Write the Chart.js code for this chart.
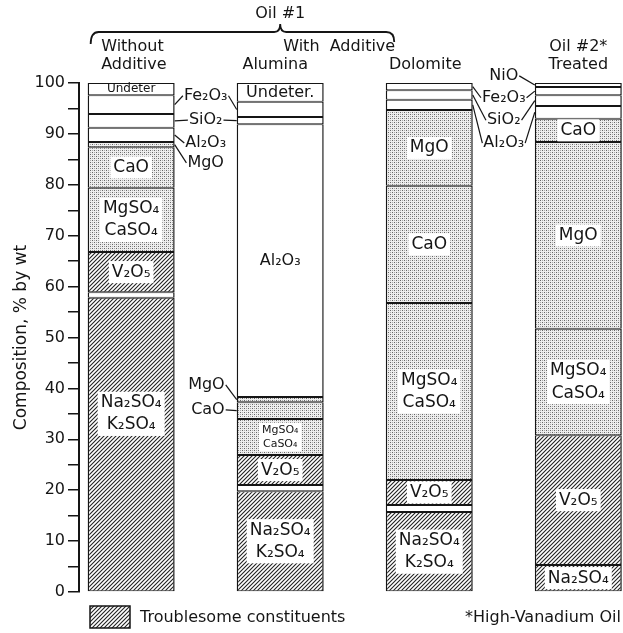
<!DOCTYPE html>
<html>
<head>
<meta charset="utf-8">
<script src="https://cdn.jsdelivr.net/npm/chart.js@4.4.1/dist/chart.umd.min.js"></script>
<style>
html, body { margin: 0; padding: 0; background: #fff; }
#wrap { width: 623px; height: 633px; }
</style>
</head>
<body>
<div id="wrap"><canvas id="comp" width="623" height="633"></canvas></div>
<script>
// bars, left to right
var bars = ['Without Additive', 'Alumina', 'Dolomite', 'Oil #2 Treated'];
var barPos = [1, 2, 3, 4];

// composition, % by wt - bottom layer first
var naK    = [57.8, 19.8, 15.7, 5.3];
var gap    = [1.1, 1.2, 1.4, null];
var v2o5   = [7.9, 5.9, 4.9, 25.5];
var sulf   = [12.6, 7.1, 34.8, 20.9];
var mgoLow = [null, null, null, 36.7];
var cao    = [8.0, 3.3, 23.0, 4.6];
var mgo    = [1.0, 1.0, 14.9, null];
var al2o3  = [2.8, 53.6, 2.0, 2.5];
var sio2   = [2.7, 1.4, 1.9, 2.1];
var fe2o3  = [3.7, 3.0, 1.4, 1.6];
var undet  = [2.4, 3.7, null, null];
var nio    = [null, null, null, 0.8];

// y axis labels every 10, ticks every 5
var yLabels = [0, 10, 20, 30, 40, 50, 60, 70, 80, 90, 100];

var FONT = '"DejaVu Sans", sans-serif';
var INK = '#151515';

var ctx = document.getElementById('comp').getContext('2d');

function hatch() {
  var c = document.createElement('canvas');
  c.width = 4; c.height = 4;
  var g = c.getContext('2d');
  g.fillStyle = '#fff';
  g.fillRect(0, 0, 4, 4);
  g.strokeStyle = '#222';
  g.lineWidth = 1.1;
  g.beginPath();
  g.moveTo(-1, 5); g.lineTo(5, -1);
  g.moveTo(-1, 1); g.lineTo(1, -1);
  g.moveTo(3, 5); g.lineTo(5, 3);
  g.stroke();
  return ctx.createPattern(c, 'repeat');
}

function stipple() {
  var c = document.createElement('canvas');
  c.width = 4; c.height = 4;
  var g = c.getContext('2d');
  g.fillStyle = '#eeeeee';
  g.fillRect(0, 0, 4, 4);
  g.fillStyle = '#666';
  g.fillRect(0, 0, 1, 1); g.fillRect(2, 2, 1, 1);
  g.fillStyle = '#aaa';
  g.fillRect(2, 0, 1, 1); g.fillRect(0, 2, 1, 1);
  return ctx.createPattern(c, 'repeat');
}

var HATCH = hatch();
var DOTS = stipple();

// key, name, values, fill
var layers = [
  ['naK', 'Na₂SO₄ + K₂SO₄', naK, HATCH],
  ['gap', '', gap, '#fff'],
  ['v2o5', 'V₂O₅', v2o5, HATCH],
  ['sulf', 'MgSO₄ + CaSO₄', sulf, DOTS],
  ['mgoLow', 'MgO', mgoLow, DOTS],
  ['cao', 'CaO', cao, DOTS],
  ['mgo', 'MgO', mgo, DOTS],
  ['al2o3', 'Al₂O₃', al2o3, '#fff'],
  ['sio2', 'SiO₂', sio2, '#fff'],
  ['fe2o3', 'Fe₂O₃', fe2o3, '#fff'],
  ['undet', 'Undeter.', undet, '#fff'],
  ['nio', 'NiO', nio, '#fff']
];

var datasets = layers.map(function (l) {
  return {
    key: l[0],
    label: l[1],
    data: l[2],
    backgroundColor: l[3],
    borderColor: INK,
    borderWidth: { top: 1, bottom: 1, left: 1.5, right: 1.5 },
    borderSkipped: false,
    inflateAmount: 0,
    barThickness: 87
  };
});

// labels written inside the bars
var inLabels = [
  { k: 'undet', b: 0, t: ['Undeter'], f: 12 },
  { k: 'cao', b: 0, t: ['CaO'] },
  { k: 'sulf', b: 0, t: ['MgSO₄', 'CaSO₄'] },
  { k: 'v2o5', b: 0, t: ['V₂O₅'] },
  { k: 'naK', b: 0, t: ['Na₂SO₄', 'K₂SO₄'], at: 35 },
  { k: 'undet', b: 1, t: ['Undeter.'], f: 16 },
  { k: 'al2o3', b: 1, t: ['Al₂O₃'], f: 16 },
  { k: 'sulf', b: 1, t: ['MgSO₄', 'CaSO₄'], f: 11 },
  { k: 'v2o5', b: 1, t: ['V₂O₅'] },
  { k: 'naK', b: 1, t: ['Na₂SO₄', 'K₂SO₄'] },
  { k: 'mgo', b: 2, t: ['MgO'] },
  { k: 'cao', b: 2, t: ['CaO'] },
  { k: 'sulf', b: 2, t: ['MgSO₄', 'CaSO₄'] },
  { k: 'v2o5', b: 2, t: ['V₂O₅'] },
  { k: 'naK', b: 2, t: ['Na₂SO₄', 'K₂SO₄'] },
  { k: 'cao', b: 3, t: ['CaO'] },
  { k: 'mgoLow', b: 3, t: ['MgO'] },
  { k: 'sulf', b: 3, t: ['MgSO₄', 'CaSO₄'] },
  { k: 'v2o5', b: 3, t: ['V₂O₅'] },
  { k: 'naK', b: 3, t: ['Na₂SO₄'] }
];

// labels outside the bars with leader lines
// pair = text centred between bar pair[0] and pair[1]; left = text just left of that bar
var callouts = [
  { t: 'Fe₂O₃', y: 97.5, pair: [0, 1], to: [['fe2o3', 0], ['fe2o3', 1]] },
  { t: 'SiO₂', y: 92.7, pair: [0, 1], to: [['sio2', 0], ['sio2', 1]] },
  { t: 'Al₂O₃', y: 88.2, pair: [0, 1], to: [['al2o3', 0]] },
  { t: 'MgO', y: 84.3, pair: [0, 1], to: [['mgo', 0]] },
  { t: 'MgO', y: 40.7, left: 1, to: [['mgo', 1]] },
  { t: 'CaO', y: 35.8, left: 1, to: [['cao', 1]] },
  { t: 'NiO', y: 101.4, pair: [2, 3], to: [['nio', 3]] },
  { t: 'Fe₂O₃', y: 97.1, pair: [2, 3], to: [['fe2o3', 2], ['fe2o3', 3]] },
  { t: 'SiO₂', y: 92.7, pair: [2, 3], to: [['sio2', 2], ['sio2', 3]] },
  { t: 'Al₂O₃', y: 88.2, pair: [2, 3], to: [['al2o3', 2], ['al2o3', 3]] }
];

function bar(chart, key, b) {
  var i = layers.findIndex(function (l) { return l[0] === key; });
  return chart.getDatasetMeta(i).data[b];
}

var decor = {
  id: 'decor',
  afterDraw: function (chart) {
    var g = chart.ctx;
    var x = chart.scales.x, y = chart.scales.y;
    var px = function (i) { return x.getPixelForValue(barPos[i]); };
    var half = bar(chart, 'naK', 0).width / 2;
    g.save();
    g.fillStyle = INK;
    g.strokeStyle = INK;
    g.textBaseline = 'middle';

    // labels inside bars
    inLabels.forEach(function (L) {
      var el = bar(chart, L.k, L.b);
      var f = L.f || 17;
      var lh = f * 1.3;
      var cy = L.at != null ? y.getPixelForValue(L.at) : (el.y + el.base) / 2;
      g.font = f + 'px ' + FONT;
      g.textAlign = 'center';
      var w = Math.max.apply(null, L.t.map(function (s) { return g.measureText(s).width; }));
      var top = cy - lh * L.t.length / 2;
      var fill = layers.find(function (l) { return l[0] === L.k; })[3];
      if (fill !== '#fff') {
        g.fillStyle = '#fff';
        g.fillRect(el.x - w / 2 - 3, top, w + 6, lh * L.t.length);
      }
      g.fillStyle = INK;
      L.t.forEach(function (s, j) { g.fillText(s, el.x, top + lh * (j + 0.5)); });
    });

    // callouts
    g.font = '16px ' + FONT;
    g.lineWidth = 1.2;
    callouts.forEach(function (c) {
      var ty = y.getPixelForValue(c.y);
      var w = g.measureText(c.t).width;
      var tx;
      if (c.pair) {
        tx = (px(c.pair[0]) + half + px(c.pair[1]) - half) / 2;
      } else {
        tx = px(c.left) - half - 12 - w / 2;
      }
      g.textAlign = 'center';
      g.fillText(c.t, tx, ty);
      c.to.forEach(function (tg) {
        var el = bar(chart, tg[0], tg[1]);
        var ey = (el.y + el.base) / 2;
        var onRight = el.x > tx;
        var ex = onRight ? el.x - el.width / 2 : el.x + el.width / 2;
        var sx = onRight ? tx + w / 2 + 1 : tx - w / 2 - 1;
        g.beginPath();
        g.moveTo(sx, ty);
        g.lineTo(ex, ey);
        g.stroke();
      });
    });

    // header
    g.font = '16px ' + FONT;
    g.textAlign = 'center';
    g.fillText('Oil #1', px(1), 14);
    g.lineWidth = 1.8;
    var bl = px(0) - half + 3, br = px(2) - 35, bt = 32, pk = px(1);
    g.beginPath();
    g.moveTo(bl, 44);
    g.quadraticCurveTo(bl, bt, bl + 8, bt);
    g.lineTo(pk - 6, bt);
    g.quadraticCurveTo(pk, bt, pk, bt - 8);
    g.quadraticCurveTo(pk, bt, pk + 6, bt);
    g.lineTo(br - 8, bt);
    g.quadraticCurveTo(br, bt, br, 42);
    g.stroke();
    g.textAlign = 'left';
    g.fillText('Without', px(0) - 30, 47);
    g.fillText('Additive', px(0) - 30, 65);
    g.fillText('With  Additive', px(1) + 3, 47);
    g.textAlign = 'center';
    g.fillText('Alumina', px(1) - 5, 65);
    g.fillText('Dolomite', px(2) - 4, 65);
    g.fillText('Oil #2*', px(3), 47);
    g.fillText('Treated', px(3), 65);

    // footer key
    g.fillStyle = HATCH;
    g.fillRect(90, 606, 40, 22);
    g.lineWidth = 1.5;
    g.strokeRect(90, 606, 40, 22);
    g.fillStyle = INK;
    g.textAlign = 'left';
    g.fillText('Troublesome constituents', 140, 618);
    g.textAlign = 'right';
    g.fillText('*High-Vanadium Oil', 621, 618);
    g.restore();
  }
};

new Chart(ctx, {
  type: 'bar',
  data: { labels: barPos, datasets: datasets },
  options: {
    responsive: false,
    animation: false,
    layout: { padding: { top: 83, bottom: 41, left: 0, right: 0 } },
    plugins: { legend: { display: false }, tooltip: { enabled: false } },
    scales: {
      x: {
        type: 'linear',
        stacked: true,
        offset: false,
        min: 0.65,
        max: 4.3,
        display: false
      },
      y: {
        stacked: true,
        min: 0,
        max: 100,
        afterFit: function (s) { s.width = 79; },
        border: { color: INK, width: 2 },
        grid: { drawOnChartArea: false, color: INK, lineWidth: 1.5, tickLength: 11 },
        ticks: {
          stepSize: 5,
          padding: 3,
          color: INK,
          font: { family: FONT, size: 16 },
          callback: function (v) { return yLabels.indexOf(v) >= 0 ? String(v) : ''; }
        },
        title: {
          display: true,
          text: 'Composition, % by wt',
          color: INK,
          font: { family: FONT, size: 17 },
          padding: { top: 11, bottom: 0 }
        }
      }
    }
  },
  plugins: [decor]
});
</script>
</body>
</html>
